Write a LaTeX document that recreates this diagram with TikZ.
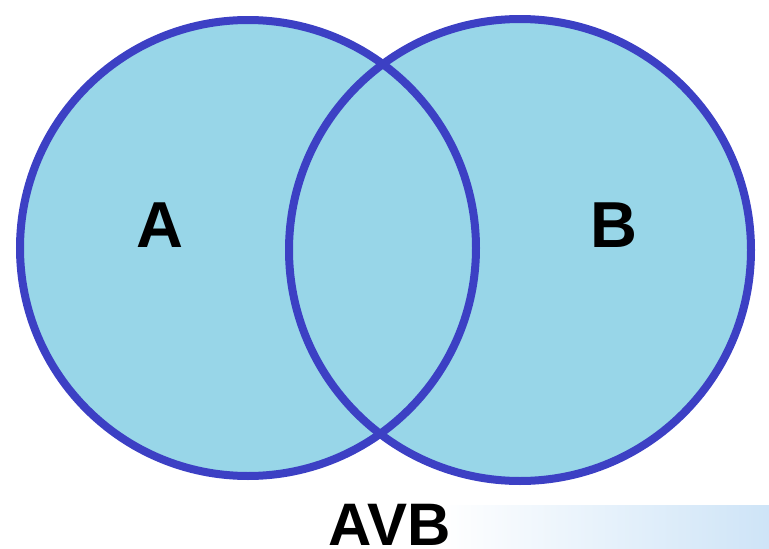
\documentclass[tikz,border=0pt]{standalone}
\usepackage{fontspec}
\setmainfont{Liberation Sans}
\usetikzlibrary{shadings}
\definecolor{vennfill}{RGB}{152,214,232}
\definecolor{vennline}{RGB}{60,64,196}
\definecolor{barblue}{RGB}{206,228,247}
\tikzset{
  setfill/.style={fill=vennfill},
  setline/.style={draw=vennline, line width=8pt},
  setlabel/.style={anchor=base, inner sep=0pt, font=\bfseries\fontsize{65}{65}\selectfont},
  caption/.style={anchor=base, inner sep=0pt, text depth=0pt, font=\bfseries\fontsize{60}{60}\selectfont}
}
\begin{document}
\begin{tikzpicture}[x=1pt,y=-1pt]
\useasboundingbox (0,0) rectangle (769,549);
\coordinate (ca) at (248,248);
\coordinate (cb) at (520,250);
\shade[left color=white, right color=barblue] (440,505) rectangle (769,549);
\fill[setfill] (ca) circle[radius=228];
\fill[setfill] (cb) circle[radius=231];
\draw[setline] (ca) circle[radius=228];
\draw[setline] (cb) circle[radius=231];
\node[setlabel] (la) at (160,247) {A};
\node[setlabel] (lb) at (614,247) {B};
\node[caption] (cap) at (390,545) {AVB};
\end{tikzpicture}
\end{document}
